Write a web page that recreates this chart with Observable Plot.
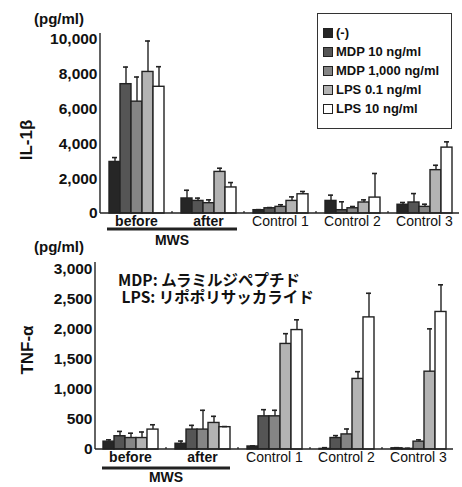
<!DOCTYPE html>
<html>
<head>
<meta charset="utf-8">
<script src="https://cdn.jsdelivr.net/npm/d3@7"></script>
<script src="https://cdn.jsdelivr.net/npm/@observablehq/plot@0.6"></script>
<style>
  body { margin: 0; background: #fff; }
  #wrap { position: relative; width: 462px; height: 487px; font-family: "Liberation Sans", Arial, sans-serif; color: #111; overflow: hidden; }
  .abs { position: absolute; white-space: nowrap; }
  .unit { font-weight: bold; font-size: 15px; }
  .ylab { font-weight: bold; font-size: 17px; transform-origin: center; }
  #legend { position: absolute; left: 317px; top: 13px; width: 135px; height: 116px; border: 1px solid #333; box-sizing: border-box; }
  .li { position: absolute; left: 5px; height: 19px; display: flex; align-items: center; font-weight: bold; font-size: 13px; }
  .sw { width: 8px; height: 8px; border: 1.3px solid #222; margin-right: 3px; }
  .jp { white-space: pre; font-family: "Noto Sans CJK JP", sans-serif; font-weight: bold; font-size: 15.5px; line-height: 17px; }
</style>
</head>
<body>
<div id="wrap"></div>
<script>
const groups = ["before", "after", "Control 1", "Control 2", "Control 3"];
const series = ["(-)", "MDP 10 ng/ml", "MDP 1,000 ng/ml", "LPS 0.1 ng/ml", "LPS 10 ng/ml"];
const colors = ["#262626", "#555555", "#858585", "#b3b3b3", "#ffffff"];
const note = "MDP: ムラミルジペプチド\n LPS: リポポリサッカライド";

// IL-1β (pg/ml): rows = series, cols = groups
const il1bValues = [
  [2950, 860, 190, 720, 500],
  [7400, 720, 300, 190, 630],
  [6400, 590, 380, 300, 380],
  [8100, 2380, 720, 630, 2480],
  [7250, 1490, 1100, 910, 3770]
];
const il1bErrTop = [
  [3200, 1330, 220, 1050, 630],
  [8380, 880, 340, 670, 1140],
  [7810, 780, 500, 400, 530],
  [9870, 2590, 950, 780, 2760],
  [8400, 1770, 1260, 2290, 4100]
];
const il1bTicks = [0, 2000, 4000, 6000, 8000, 10000];

// TNF-α (pg/ml)
const tnfValues = [
  [130, 95, 50, 10, 20],
  [220, 330, 550, 190, 10],
  [190, 330, 550, 250, 130],
  [190, 440, 1750, 1170, 1290],
  [330, 370, 1980, 2190, 2280]
];
const tnfErrTop = [
  [160, 140, 60, 30, 30],
  [300, 400, 660, 230, 20],
  [270, 650, 650, 340, 160],
  [290, 550, 1920, 1290, 2000],
  [410, 380, 2150, 2590, 2730]
];
const tnfTicks = [0, 500, 1000, 1500, 2000, 2500, 3000];

const mwsGroups = ["before", "after"];

function table(values, errs) {
  const rows = [];
  series.forEach((s, i) => groups.forEach((g, j) => rows.push({group: g, series: s, value: values[i][j], err: errs[i][j]})));
  return rows;
}

const fmt = d3.format(",");

function panel(o) {
  const data = table(o.values, o.errs);
  const svg = Plot.plot({
    width: 462,
    height: o.height,
    marginTop: o.marginTop,
    marginBottom: o.marginBottom,
    marginLeft: o.marginLeft,
    marginRight: o.marginRight,
    style: {fontFamily: "'Liberation Sans', Arial, sans-serif", fontSize: "14px", fontWeight: "bold", color: "#111", background: "transparent"},
    fx: {domain: groups, paddingInner: o.paddingInner, paddingOuter: o.paddingOuter, tickSize: 0, tickPadding: 3, label: null, axis: "bottom"},
    x: {domain: series, padding: 0, axis: null},
    y: {domain: [0, o.yMax], ticks: o.ticks, tickFormat: fmt, tickSize: 0, tickPadding: 10, label: null},
    color: {domain: series, range: colors},
    marks: [
      Plot.barY(data, {fx: "group", x: "series", y: "value", fill: "series", stroke: "#222", strokeWidth: 1.4}),
      Plot.ruleX(data, {fx: "group", x: "series", y1: "value", y2: "err", stroke: "#222", strokeWidth: 1.4}),
      Plot.tickY(data, {fx: "group", x: "series", y: "err", stroke: "#222", strokeWidth: 1.6, insetLeft: 3, insetRight: 3})
    ]
  });
  const sel = d3.select(svg);
  sel.selectAll("text").filter(function() { return /^[\d,]+$/.test(this.textContent); }).attr("font-size", "15.5px");
  sel.selectAll("text").filter(function() { return this.textContent.startsWith("Control"); }).attr("font-weight", "normal");
  const fx = svg.scale("fx");
  const y = svg.scale("y");
  const y0 = y.apply(0);
  const left = o.marginLeft, right = 462 - o.marginRight;
  const g = sel.append("g").attr("stroke", "#222").attr("fill", "none");
  g.append("line").attr("x1", left).attr("x2", left).attr("y1", y0).attr("y2", y.apply(o.yMax)).attr("stroke-width", 1.4);
  g.append("line").attr("x1", left).attr("x2", right).attr("y1", y0).attr("y2", y0).attr("stroke-width", 1.6);
  for (let i = 0; i < groups.length - 1; i++) {
    const xa = fx.apply(groups[i]) + fx.bandwidth, xb = fx.apply(groups[i + 1]);
    const xm = (xa + xb) / 2;
    g.append("line").attr("x1", xm).attr("x2", xm).attr("y1", y0).attr("y2", y0 - 2).attr("stroke-width", 1.2);
  }
  const xs = fx.apply(mwsGroups[0]), xe = fx.apply(mwsGroups[1]) + fx.bandwidth;
  g.append("line").attr("x1", xs).attr("x2", xe).attr("y1", y0 + o.lineDy).attr("y2", y0 + o.lineDy).attr("stroke-width", 3);
  sel.append("text").attr("x", (xs + xe) / 2).attr("y", y0 + o.textDy).attr("text-anchor", "middle")
    .attr("dominant-baseline", "middle").attr("font-size", "14px").attr("font-weight", "bold").attr("fill", "#111").text("MWS");
  return svg;
}

const wrap = document.getElementById("wrap");

const top1 = document.createElement("div");
top1.style.cssText = "position:absolute;left:0;top:0;";
top1.appendChild(panel({values: il1bValues, errs: il1bErrTop, yMax: 10300, ticks: il1bTicks,
  height: 250, marginTop: 33, marginBottom: 37, marginLeft: 100, marginRight: 3,
  paddingInner: 0.2, paddingOuter: 0.075, lineDy: 16, textDy: 28}));
wrap.appendChild(top1);

const bot = document.createElement("div");
bot.style.cssText = "position:absolute;left:0;top:250px;";
bot.appendChild(panel({values: tnfValues, errs: tnfErrTop, yMax: 3100, ticks: tnfTicks,
  height: 237, marginTop: 12, marginBottom: 38, marginLeft: 95, marginRight: 9,
  paddingInner: 0.22, paddingOuter: 0.07, lineDy: 19, textDy: 29}));
wrap.appendChild(bot);

function addText(content, cls, left, top, extra, asText) {
  const d = document.createElement("div");
  d.className = "abs " + cls;
  if (asText) d.textContent = content; else d.innerHTML = content;
  d.style.left = left + "px";
  d.style.top = top + "px";
  if (extra) d.style.cssText += extra;
  wrap.appendChild(d);
  return d;
}
addText("(pg/ml)", "unit", 34, 10);
addText("(pg/ml)", "unit", 34, 238);
addText("IL-1&beta;", "ylab", 2, 130, "transform: rotate(-90deg); width:50px; text-align:center;");
addText("TNF-&alpha;", "ylab", -2, 340, "transform: rotate(-90deg); width:60px; text-align:center;");
addText(note, "jp", 118, 271, "", true);

const legend = document.createElement("div");
legend.id = "legend";
series.forEach((s, i) => {
  const li = document.createElement("div");
  li.className = "li";
  li.style.top = (9 + i * 19) + "px";
  const sw = document.createElement("span");
  sw.className = "sw";
  sw.style.background = colors[i];
  li.appendChild(sw);
  li.appendChild(document.createTextNode(s));
  legend.appendChild(li);
});
wrap.appendChild(legend);
</script>
</body>
</html>
